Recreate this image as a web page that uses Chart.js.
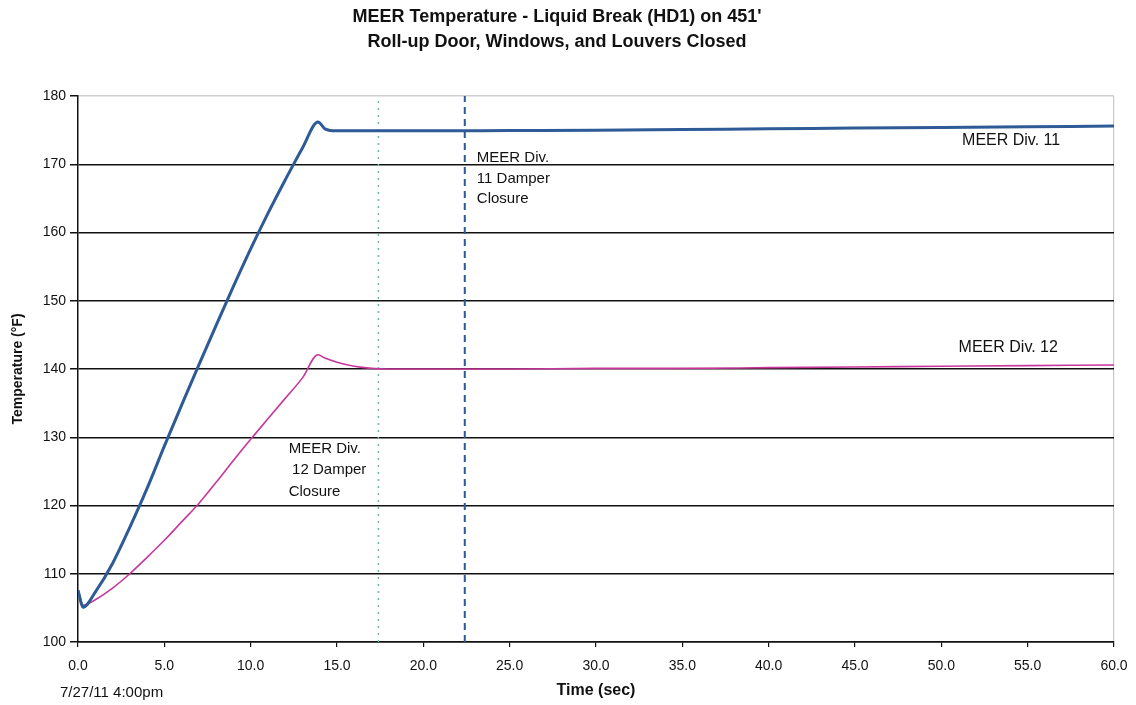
<!DOCTYPE html>
<html><head><meta charset="utf-8">
<script src="https://cdn.jsdelivr.net/npm/chart.js@4/dist/chart.umd.min.js"></script>
<style>html,body{margin:0;padding:0;background:#fff;} canvas{display:block;}</style>
</head><body>
<div style="width:1136px;height:705px;position:relative"><canvas id="c" width="1136" height="705"></canvas></div>
<script>
const titleLines = ["MEER Temperature - Liquid Break (HD1) on 451'", "Roll-up Door, Windows, and Louvers Closed"];
const xAxisTitle = "Time (sec)";
const yAxisTitle = "Temperature (\u00B0F)";
const dateLabel = "7/27/11 4:00pm";
const xTicks = [0, 5, 10, 15, 20, 25, 30, 35, 40, 45, 50, 55, 60];
const yTicks = [100, 110, 120, 130, 140, 150, 160, 170, 180];
const seriesNames = ["MEER Div. 11", "MEER Div. 12"];
const timeSec   = [0, 0.3, 1, 2, 3, 4, 5, 6, 7, 8, 9, 10, 11, 12, 13, 13.9, 14.3, 15, 16, 17, 18, 20, 25, 30, 35, 40, 45, 50, 55, 60];
const div11Temp = [107.6, 105.1, 107.3, 111.5, 116.8, 122.5, 128.7, 134.7, 140.6, 146.4, 152.1, 157.6, 162.8, 167.7, 172.4, 176.2, 175.2, 174.9, 174.9, 174.9, 174.9, 174.9, 174.95, 175.0, 175.1, 175.2, 175.3, 175.4, 175.5, 175.6];
const div12Temp = [107.6, 105.4, 106.2, 107.9, 110.0, 112.4, 114.9, 117.6, 120.3, 123.4, 126.6, 129.7, 132.7, 135.7, 138.7, 142.1, 141.6, 141.0, 140.4, 140.1, 140.0, 140.0, 140.0, 140.1, 140.1, 140.2, 140.3, 140.4, 140.5, 140.6];
const damperTimes = [17.4, 22.4];
const damperNames = ["Div. 12 Damper Closure", "Div. 11 Damper Closure"];
// annotation labels: text lines with data coordinates (time, temperature)
const noteTexts = ["MEER Div. 11", "MEER Div. 12", "MEER Div.", "11 Damper", "Closure", "MEER Div.", "12 Damper", "Closure"];
const noteTimes = [51.2, 51.0, 23.1, 23.1, 23.1, 12.2, 12.4, 12.2];
const noteTemps = [173.4, 143.2, 170.9, 167.8, 164.9, 128.3, 125.2, 122.0];
const noteSizes = [16, 16, 15, 15, 15, 15, 15, 15];

const FONT = "Arial, 'Liberation Sans', sans-serif";
const pts = (xs, ys) => xs.map((x, i) => ({x: x, y: ys[i]}));

const extras = {
  id: 'extras',
  afterDatasetsDraw(chart) {
    const ctx = chart.ctx, xs = chart.scales.x, ys = chart.scales.y;
    ctx.save();
    ctx.fillStyle = '#111';
    ctx.textAlign = 'left';
    ctx.textBaseline = 'middle';
    noteTexts.forEach((t, i) => {
      ctx.font = noteSizes[i] + 'px ' + FONT;
      ctx.fillText(t, xs.getPixelForValue(noteTimes[i]), ys.getPixelForValue(noteTemps[i]));
    });
    ctx.font = '15px ' + FONT;
    ctx.fillText(dateLabel, 60, 693);
    ctx.restore();
  }
};

new Chart(document.getElementById('c'), {
  type: 'line',
  data: {
    datasets: [
      {label: seriesNames[0], data: pts(timeSec, div11Temp), borderColor: '#2e5a96', borderWidth: 3, pointRadius: 0, cubicInterpolationMode: 'monotone', order: 1},
      {label: seriesNames[1], data: pts(timeSec, div12Temp), borderColor: '#c7379b', borderWidth: 1.6, pointRadius: 0, cubicInterpolationMode: 'monotone', order: 2},
      {label: damperNames[0], data: [{x: damperTimes[0], y: yTicks[0]}, {x: damperTimes[0], y: yTicks[yTicks.length-1]}], borderColor: '#72b4aa', borderWidth: 1.5, borderDash: [2, 5], pointRadius: 0, order: 3},
      {label: damperNames[1], data: [{x: damperTimes[1], y: yTicks[0]}, {x: damperTimes[1], y: yTicks[yTicks.length-1]}], borderColor: '#2a5a96', borderWidth: 2, borderDash: [7, 5], pointRadius: 0, order: 3}
    ]
  },
  options: {
    responsive: false,
    animation: false,
    devicePixelRatio: 1,
    layout: {padding: {left: 0, right: 22, top: 0, bottom: 0}},
    plugins: {
      legend: {display: false},
      tooltip: {enabled: false},
      title: {
        display: true, text: titleLines, color: '#111',
        font: {family: FONT, size: 18, weight: 'bold', lineHeight: 1.39},
        padding: {top: 5, bottom: 41}
      }
    },
    scales: {
      x: {
        type: 'linear', min: 0, max: 60,
        afterBuildTicks: s => { s.ticks = xTicks.map(v => ({value: v})); },
        afterFit: s => { s.height = 63; s.paddingLeft = 0; s.paddingRight = 0; },
        ticks: {color: '#111', font: {family: FONT, size: 14}, padding: 11, maxRotation: 0, callback: v => Number(v).toFixed(1)},
        grid: {drawOnChartArea: true, color: c => (c.tick && c.tick.value === 60) ? '#c8c8c8' : 'rgba(0,0,0,0)', tickColor: '#111', tickLength: 5, lineWidth: 1.2},
        border: {color: '#111', width: 1.5},
        title: {display: true, text: xAxisTitle, color: '#111', font: {family: FONT, size: 16, weight: 'bold'}, padding: {top: 0, bottom: 5}}
      },
      y: {
        type: 'linear', min: 100, max: 180,
        afterBuildTicks: s => { s.ticks = yTicks.map(v => ({value: v})); },
        afterFit: s => { s.width = 78; s.paddingTop = 0; s.paddingBottom = 0; },
        ticks: {color: '#111', font: {family: FONT, size: 14}, padding: 4},
        grid: {color: c => (c.tick && c.tick.value === 180) ? '#cfcfcf' : '#111', lineWidth: 1.5, tickColor: '#111', tickLength: 8},
        border: {color: '#111', width: 1.5},
        title: {display: true, text: yAxisTitle, color: '#111', font: {family: FONT, size: 14, weight: 'bold'}, padding: {top: 10, bottom: 0}}
      }
    }
  },
  plugins: [extras]
});
</script>
</body></html>
